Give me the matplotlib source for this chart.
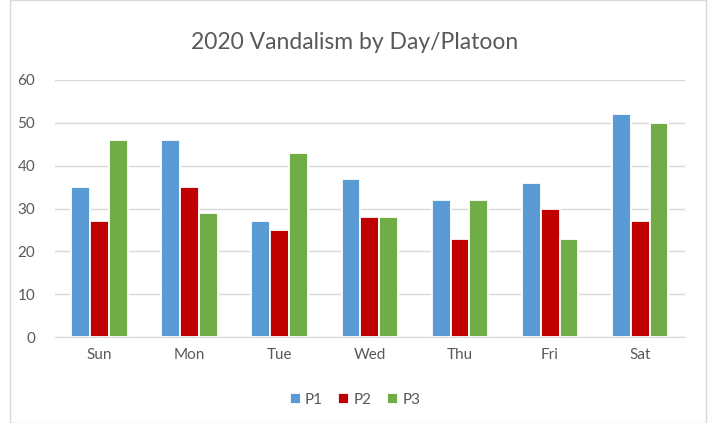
import numpy as np
import matplotlib
matplotlib.use('Agg')
import matplotlib.pyplot as plt
from matplotlib.patches import Rectangle

# Chart data
days = ['Sun', 'Mon', 'Tue', 'Wed', 'Thu', 'Fri', 'Sat']
p1 = [35, 46, 27, 37, 32, 36, 52]
p2 = [27, 35, 25, 28, 23, 30, 27]
p3 = [46, 29, 43, 28, 32, 23, 50]
series_names = ['P1', 'P2', 'P3']
yticks = [0, 10, 20, 30, 40, 50, 60]

colors = ['#5B9BD5', '#C00000', '#70AD47']
text_color = '#595959'

plt.rcParams['font.family'] = ['Lato', 'DejaVu Sans']

fig = plt.figure(figsize=(7.1, 4.23), dpi=100)
ax = fig.add_axes([0.077, 0.203, 0.888, 0.608])

# outer chart border
fig.patches.append(Rectangle((0.014, 0.0), 0.981, 1.0, transform=fig.transFigure,
                             fill=False, edgecolor='#D9D9D9', linewidth=1))

x = np.arange(len(days))
width = 0.21
for i, (vals, name) in enumerate(zip([p1, p2, p3], series_names)):
    ax.bar(x + (i - 1) * width, vals, width, color=colors[i], label=name,
           edgecolor='white', linewidth=1.3, zorder=3)

ax.set_xlim(-0.5, len(days) - 0.5)
ax.set_ylim(0, 60)
ax.set_yticks(yticks)
ax.set_xticks(x)
ax.set_xticklabels(days)
ax.tick_params(axis='both', length=0, labelsize=11, colors=text_color)
ax.tick_params(axis='y', pad=14)
ax.tick_params(axis='x', pad=8)
ax.grid(axis='y', color='#D9D9D9', linewidth=1, zorder=0)
for side in ['top', 'right', 'left']:
    ax.spines[side].set_visible(False)
ax.spines['bottom'].set_color('#D9D9D9')

fig.text(0.5, 0.9, '2020 Vandalism by Day/Platoon', ha='center', va='center',
         fontsize=16.5, color=text_color)

fig.legend(loc='center', bbox_to_anchor=(0.5, 0.055), ncol=3, frameon=False,
           fontsize=11, labelcolor=text_color, handlelength=0.7, handleheight=0.7,
           handletextpad=0.3, columnspacing=1.0)

fig.savefig('out.png', dpi=100)
